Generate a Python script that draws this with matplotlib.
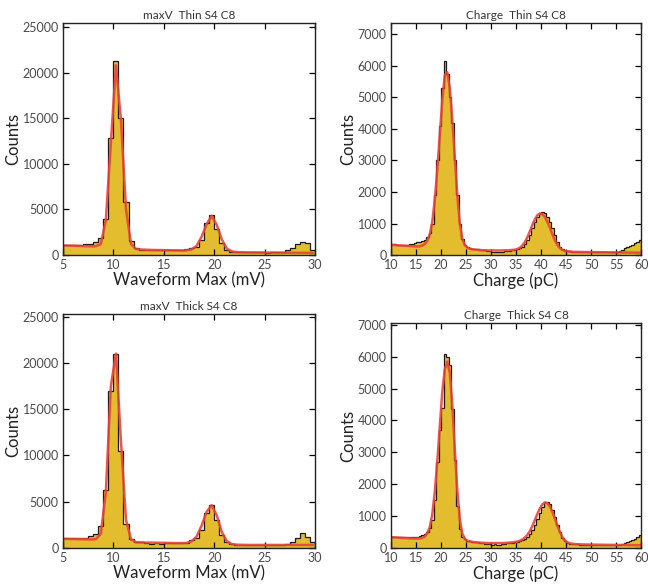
import numpy as np
import matplotlib
matplotlib.use('Agg')
import matplotlib.pyplot as plt

plt.rcParams['font.family'] = ['Lato', 'DejaVu Sans']

# maxV histograms: 0.5 mV bins from 5 to 30 mV
maxv_edges = np.arange(5.0, 30.01, 0.5)
# charge histograms: 0.5 pC bins from 10 to 60 pC
charge_edges = np.arange(10.0, 60.01, 0.5)

maxv_thin_counts = [
    1100, 1100, 1100, 1100, 1200, 1250, 1400, 1900,
    4000, 12800, 21300, 15000, 5800, 1500,
    800, 500, 500, 600, 600, 550, 550, 550, 550, 600, 650,
    750, 900, 1700, 3500, 4400, 2800, 1300, 600, 350,
    300, 300, 300, 300, 300, 300, 250, 300, 300, 350, 500, 800, 1200, 1400, 1300, 600,
]
maxv_thin_fit = [
    1050, 1030, 1010, 990, 970, 960, 960, 1200,
    3800, 12300, 20800, 14800, 5000, 1200,
    650, 600, 580, 560, 550, 540, 530, 520, 510, 500, 510,
    620, 1000, 2000, 3400, 4300, 3300, 1700, 700, 400,
    320, 300, 290, 285, 280, 275, 270, 265, 260, 255, 250, 250, 245, 245, 240, 240,
]

maxv_thick_counts = [
    1000, 1000, 1000, 1050, 1100, 1250, 1500, 2400,
    6200, 17000, 21000, 10500, 2600, 900,
    600, 600, 500, 450, 500, 450, 500, 500, 500, 500, 550,
    800, 1000, 1900, 3800, 4600, 3000, 1400, 600, 400,
    300, 280, 280, 280, 270, 270, 280, 280, 300, 330, 450, 650, 1100, 1600, 1200, 600,
]
maxv_thick_fit = [
    950, 940, 930, 920, 910, 900, 920, 1500,
    6000, 17500, 21000, 11500, 3000, 900,
    600, 580, 560, 550, 540, 530, 520, 510, 500, 500, 520,
    700, 1200, 2400, 3900, 4600, 3500, 1700, 700, 400,
    330, 310, 300, 300, 300, 300, 300, 300, 300, 300, 300, 300, 300, 300, 300, 300,
]

charge_thin_counts = [
    340, 335, 330, 330, 330, 330, 330, 335, 360, 380, 400, 420, 450, 480,
    560, 700, 1000, 1900, 3000, 4100, 5300, 6150, 5750, 5000, 4200, 3000, 1900, 1000, 500,
    320, 250, 220, 200, 190, 180, 170, 160, 150, 140, 130,
    110, 100, 100, 100, 110, 120, 130, 140, 150, 160,
    180, 210, 260, 350, 480, 650, 850, 1050, 1200, 1300,
    1350, 1320, 1220, 1060, 850, 620, 420, 270, 180, 140,
    120, 115, 110, 105, 100, 100, 95, 95, 90, 90,
    90, 90, 85, 85, 85, 80, 80, 80, 80, 80,
    100, 130, 170, 210, 250, 290, 330, 370, 420, 470,
]
charge_thin_fit = [
    320, 315, 310, 305, 300, 295, 290, 285, 280, 275, 270, 275, 300, 350,
    450, 650, 1050, 1750, 2700, 3800, 4900, 5700, 5800, 5300, 4300, 3100, 1900, 1000, 520,
    320, 240, 200, 185, 175, 165, 160, 155, 150, 148, 145,
    145, 145, 145, 145, 145, 150, 150, 155, 160, 170,
    190, 230, 300, 410, 560, 750, 950, 1130, 1260, 1320,
    1300, 1210, 1060, 870, 660, 470, 320, 220, 160, 130,
    115, 110, 105, 100, 100, 98, 96, 95, 94, 93,
    92, 91, 90, 89, 88, 87, 86, 85, 84, 83,
    82, 81, 80, 79, 78, 77, 76, 75, 74, 73,
]

charge_thick_counts = [
    350, 350, 340, 340, 330, 330, 340, 330, 330, 340, 350, 370, 390, 420,
    500, 620, 870, 1500, 2700, 3700, 4400, 6100, 6000, 5750, 4350, 2750, 1300, 600, 350,
    260, 220, 200, 190, 180, 170, 160, 150, 130, 120, 110,
    100, 110, 90, 100, 120, 130, 140, 150, 160, 170,
    180, 200, 230, 280, 350, 430, 560, 720, 900, 1100,
    1280, 1450, 1430, 1380, 1200, 950, 700, 480, 300, 200,
    150, 130, 120, 110, 110, 100, 100, 100, 100, 95,
    95, 95, 90, 90, 90, 90, 85, 85, 85, 85,
    90, 100, 120, 140, 170, 200, 230, 270, 330, 400,
]
charge_thick_fit = [
    330, 325, 320, 315, 310, 305, 300, 295, 290, 290, 290, 295, 310, 350,
    450, 650, 1050, 1750, 2700, 3800, 4900, 5600, 5850, 5500, 4500, 3100, 1800, 900, 450,
    280, 220, 200, 185, 175, 165, 160, 155, 150, 148, 145,
    145, 145, 145, 145, 145, 150, 155, 160, 170, 180,
    195, 220, 260, 320, 400, 520, 680, 870, 1060, 1230,
    1360, 1420, 1400, 1300, 1130, 920, 700, 500, 340, 230,
    170, 140, 125, 115, 110, 107, 104, 102, 100, 98,
    97, 96, 95, 94, 93, 92, 91, 90, 89, 88,
    87, 86, 85, 84, 83, 82, 81, 80, 79, 78,
]

titles = ['maxV  Thin S4 C8', 'Charge  Thin S4 C8', 'maxV  Thick S4 C8', 'Charge  Thick S4 C8']
xlabels = ['Waveform Max (mV)', 'Charge (pC)', 'Waveform Max (mV)', 'Charge (pC)']

FILL = '#E3BD2E'
RED = '#E8433B'

fig = plt.figure(figsize=(6.48, 5.88), dpi=100)

rects = [
    (0.0972, 0.5663, 0.389, 0.395),
    (0.6034, 0.5663, 0.386, 0.395),
    (0.0972, 0.0685, 0.389, 0.397),
    (0.6034, 0.0685, 0.386, 0.3816),
]

panels = [
    (maxv_edges, maxv_thin_counts, maxv_thin_fit, (5, 30), 25470, np.arange(5, 31, 5), np.arange(0, 25001, 5000)),
    (charge_edges, charge_thin_counts, charge_thin_fit, (10, 60), 7370, np.arange(10, 61, 5), np.arange(0, 7001, 1000)),
    (maxv_edges, maxv_thick_counts, maxv_thick_fit, (5, 30), 25260, np.arange(5, 31, 5), np.arange(0, 25001, 5000)),
    (charge_edges, charge_thick_counts, charge_thick_fit, (10, 60), 7050, np.arange(10, 61, 5), np.arange(0, 7001, 1000)),
]

for i, (edges, counts, fit, xlim, ytop, xt, yt) in enumerate(panels):
    ax = fig.add_axes(rects[i])
    centers = 0.5 * (edges[:-1] + edges[1:])
    ax.stairs(counts, edges, fill=True, color=FILL, lw=0)
    ax.stairs(counts, edges, color='#1a1a1a', lw=0.9)
    ax.plot(centers, fit, color=RED, lw=1.8, alpha=0.9)

    ax.set_xlim(*xlim)
    ax.set_ylim(0, ytop)
    ax.set_xticks(xt)
    ax.set_yticks(yt)
    ax.tick_params(direction='in', top=True, right=True, length=4, width=0.9,
                   labelsize=9, labelcolor='#4a4a4a', pad=3)
    for s in ax.spines.values():
        s.set_linewidth(1.0)
        s.set_color('#222222')

    ax.set_title(titles[i], fontsize=8.5, color='#333333', pad=3)
    ax.set_xlabel(xlabels[i], fontsize=12, color='#222222', labelpad=1)
    ax.set_ylabel('Counts', fontsize=12, color='#222222', labelpad=1)

fig.savefig('out.png', dpi=100)
